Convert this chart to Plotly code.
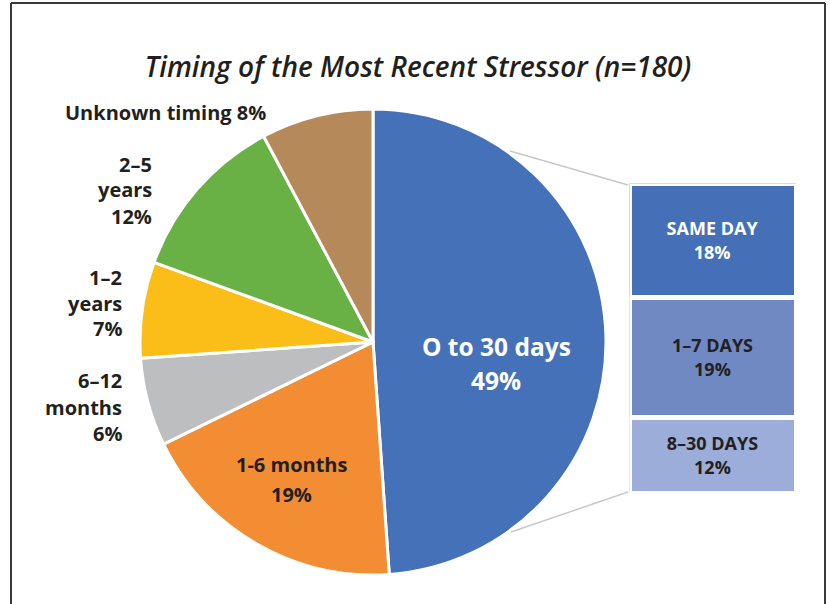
import plotly.graph_objects as go

# ---- data ----
pie_labels = ["O to 30 days", "1-6 months", "6–12 months", "1–2 years", "2–5 years", "Unknown timing"]
pie_counts = [88, 34, 11, 12, 21, 14]          # n = 180
pie_pct_text = ["49%", "19%", "6%", "7%", "12%", "8%"]
pie_colors = ["#4571B8", "#F38D33", "#BDBEC0", "#FBBD18", "#69B045", "#B5895A"]

bar_labels = ["SAME DAY", "1–7 DAYS", "8–30 DAYS"]
bar_pct = [18, 19, 12]
bar_colors = ["#4570B8", "#7189C3", "#9CADD9"]
bar_text_colors = ["#FFFFFF", "#231F20", "#231F20"]

title_text = "Timing of the Most Recent Stressor (n=180)"

W, H = 830, 604
def px(x):
    return x / W
def py(y):
    return 1 - y / H

FONT = "Open Sans"
DARK = "#231F20"

fig = go.Figure()

fig.add_trace(go.Pie(
    labels=pie_labels, values=pie_counts, sort=False, direction="clockwise",
    rotation=0, textinfo="none", hoverinfo="label+percent",
    marker=dict(colors=pie_colors, line=dict(color="white", width=3)),
    domain=dict(x=[px(373 - 233), px(373 + 233)], y=[py(342 + 233), py(342 - 233)]),
    showlegend=False,
))

# stacked bar (top = SAME DAY): draw bottom first
for i in reversed(range(len(bar_labels))):
    fig.add_trace(go.Bar(
        x=[0], y=[bar_pct[i]], xaxis="x", yaxis="y",
        marker=dict(color=bar_colors[i], line=dict(color="white", width=5)),
        text=[f"{bar_labels[i]}<br>{bar_pct[i]}%"], textposition="inside",
        insidetextanchor="middle", textangle=0,
        textfont=dict(family=FONT, size=18, color=bar_text_colors[i], weight=700),
        width=1, showlegend=False, hoverinfo="skip",
    ))

fig.update_layout(
    width=W, height=H, margin=dict(l=0, r=0, t=0, b=0),
    paper_bgcolor="white", plot_bgcolor="rgba(0,0,0,0)",
    barmode="stack", bargap=0,
    xaxis=dict(domain=[px(629.5), px(796.5)], range=[-0.5, 0.5], visible=False, fixedrange=True),
    yaxis=dict(domain=[py(493.5), py(183.5)], range=[0, sum(bar_pct)], visible=False, fixedrange=True),
    title=dict(text=title_text, x=px(418), xanchor="center", y=py(67), yanchor="middle",
               font=dict(family=FONT, size=28, color=DARK, style="italic", weight=600)),
    font=dict(family=FONT, color=DARK),
)

# frame
fig.add_shape(type="line", xref="paper", yref="paper", x0=px(11), x1=px(11), y0=py(610), y1=py(3),
              line=dict(color="#3A3A3A", width=2))
fig.add_shape(type="line", xref="paper", yref="paper", x0=px(11), x1=px(825), y0=py(3), y1=py(3),
              line=dict(color="#3A3A3A", width=2))
fig.add_shape(type="line", xref="paper", yref="paper", x0=px(825), x1=px(825), y0=py(3), y1=py(610),
              line=dict(color="#3A3A3A", width=2))

# connector lines
fig.add_shape(type="line", xref="paper", yref="paper", x0=px(510), y0=py(151), x1=px(628), y1=py(185),
              line=dict(color="#C8C8C8", width=1.5))
fig.add_shape(type="line", xref="paper", yref="paper", x0=px(511), y0=py(532), x1=px(628), y1=py(492),
              line=dict(color="#C8C8C8", width=1.5))

def ann(lines, x, y0, step, anchor="center", size=20, color=DARK):
    for k, t in enumerate(lines):
        fig.add_annotation(text=t, xref="paper", yref="paper", x=px(x), y=py(y0 + k * step),
                           xanchor=anchor, yanchor="middle", showarrow=False,
                           font=dict(family=FONT, size=size, color=color, weight=700))

# outside labels
ann([f"{pie_labels[5]} {pie_pct_text[5]}"], 268, 112, 0, anchor="right")
ann(["2–5", "years", pie_pct_text[4]], 154, 164, 26, anchor="right")
ann(["1–2", "years", pie_pct_text[3]], 124, 277, 26, anchor="right")
ann(["6–12", "months", pie_pct_text[2]], 124, 381, 26, anchor="right")
# inside labels
ann([pie_labels[1], pie_pct_text[1]], 291, 464, 30, size=20)
ann([pie_labels[0], pie_pct_text[0]], 496, 346, 35, size=24.5, color="white")

fig.write_html("out.html", config={"displayModeBar": False},
               post_script="document.body.style.margin='0';document.body.style.overflow='hidden';")
